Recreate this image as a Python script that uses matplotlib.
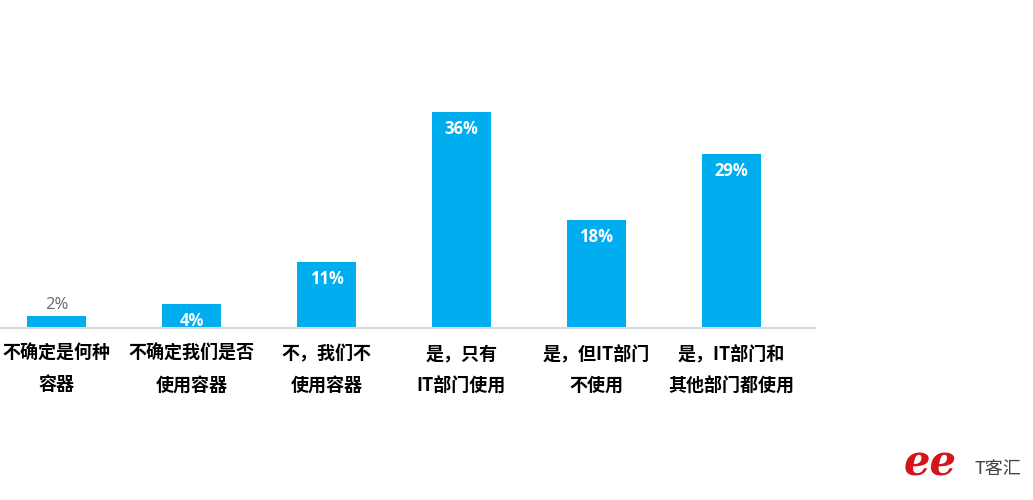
import matplotlib
matplotlib.use("Agg")
import matplotlib.pyplot as plt

plt.rcParams['font.family'] = ['Noto Sans CJK SC', 'DejaVu Sans']

# Dados do gráfico
categorias = ["不确定是何种\n容器", "不确定我们是否\n使用容器", "不，我们不\n使用容器",
              "是，只有\nIT部门使用", "是，但IT部门\n不使用", "是，IT部门和\n其他部门都使用"]
valores = [2, 4, 11, 36, 18, 29]
rotulos = ["2%", "4%", "11%", "36%", "18%", "29%"]

azul = "#00adef"

fig = plt.figure(figsize=(10.33, 5), dpi=100)
ax = fig.add_axes([0, 172 / 500, 815 / 1033, 240 / 500])

x = list(range(len(valores)))
ax.bar(x, valores, width=0.44, color=azul, zorder=2)

ax.set_xlim(-56.5 / 135, (815 - 56.5) / 135)
ax.set_ylim(0, 40)

# Rótulos das barras: dentro em branco, fora em cinza quando a barra é baixa
for xi, v, r in zip(x, valores, rotulos):
    if v < 3:
        ax.text(xi, v + 0.5, r, ha="center", va="bottom", color="#666666",
                fontsize=12, family=["Open Sans", "DejaVu Sans"])
    else:
        ax.text(xi, v - 1.4, r, ha="center", va="top", color="white",
                fontsize=12, fontweight="bold", family=["Open Sans", "DejaVu Sans"])

# Rótulos das categorias
for xi, c in zip(x, categorias):
    ax.text(xi, -2.7, c, ha="center", va="top", fontsize=13, fontweight="bold",
            color="black", linespacing=1.8)

for s in ["top", "right", "left"]:
    ax.spines[s].set_visible(False)
ax.spines["bottom"].set_color("#d9d9d9")
ax.spines["bottom"].set_linewidth(1.5)
ax.set_xticks([])
ax.set_yticks([])

# Marca d'água no canto inferior direito
fig.text(0.9, 0.03, "ee", color="#d4161c", fontsize=30, fontstyle="italic",
         fontweight="bold", family=["DejaVu Serif"], ha="center", va="bottom")
fig.text(0.966, 0.062, "T客汇", color="#444444", fontsize=13, ha="center", va="center")

fig.savefig("out.png", dpi=100)
